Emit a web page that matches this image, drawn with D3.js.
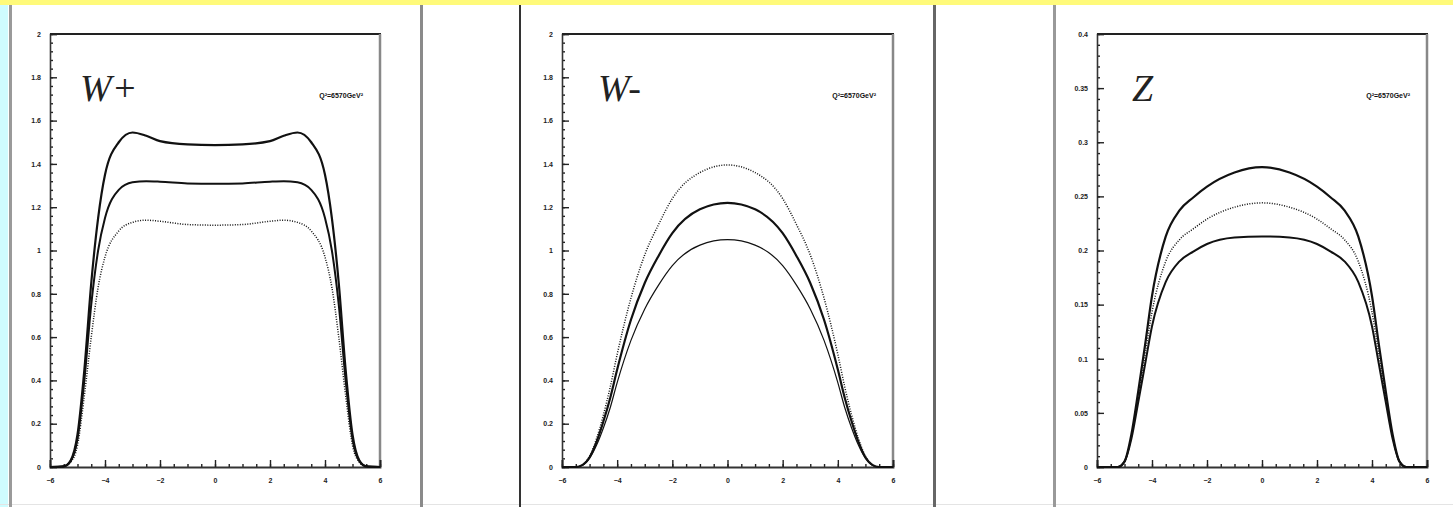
<!DOCTYPE html>
<html><head><meta charset="utf-8">
<script src="https://cdn.jsdelivr.net/npm/d3@7"></script>
<style>
html,body{margin:0;padding:0;background:#fff;}
svg{display:block;}
</style></head>
<body>
<svg id="c" width="1453" height="507"></svg>
<script>
// ---------- data ----------
const rapidity = [-6,-5.5,-5.25,-5,-4.75,-4.5,-4.25,-4,-3.5,-3,-2.5,-2,-1,0,1,2,2.5,3,3.5,4,4.25,4.5,4.75,5,5.25,5.5,6];

const wPlusUpper = [0,0.003,0.03,0.15,0.45,0.85,1.15,1.35,1.50,1.545,1.53,1.505,1.49,1.487,1.49,1.505,1.53,1.545,1.50,1.35,1.15,0.85,0.45,0.15,0.03,0.003,0];
const wPlusMiddle = [0,0.003,0.027,0.13,0.40,0.75,1.00,1.15,1.28,1.315,1.32,1.318,1.31,1.308,1.31,1.318,1.32,1.315,1.28,1.15,1.00,0.75,0.40,0.13,0.027,0.003,0];
const wPlusLower = [0,0.002,0.022,0.10,0.33,0.60,0.83,0.97,1.09,1.13,1.14,1.135,1.12,1.117,1.12,1.135,1.14,1.13,1.09,0.97,0.83,0.60,0.33,0.10,0.022,0.002,0];

const wMinusUpper = [0,0,0.01,0.05,0.13,0.24,0.37,0.52,0.78,0.98,1.12,1.24,1.36,1.395,1.36,1.24,1.12,0.98,0.78,0.52,0.37,0.24,0.13,0.05,0.01,0,0];
const wMinusMiddle = [0,0,0.01,0.045,0.115,0.21,0.32,0.45,0.68,0.85,0.975,1.08,1.19,1.22,1.19,1.08,0.975,0.85,0.68,0.45,0.32,0.21,0.115,0.045,0.01,0,0];
const wMinusLower = [0,0,0.008,0.04,0.10,0.18,0.275,0.39,0.585,0.73,0.84,0.93,1.025,1.05,1.025,0.93,0.84,0.73,0.585,0.39,0.275,0.18,0.10,0.04,0.008,0,0];

const zUpper = [0,0,0,0.005,0.03,0.07,0.113,0.158,0.213,0.237,0.249,0.259,0.272,0.277,0.272,0.259,0.249,0.237,0.213,0.158,0.113,0.07,0.03,0.005,0,0,0];
const zMiddle = [0,0,0,0.005,0.028,0.065,0.104,0.143,0.19,0.21,0.22,0.229,0.24,0.244,0.24,0.229,0.22,0.21,0.19,0.143,0.104,0.065,0.028,0.005,0,0,0];
const zLower = [0,0,0,0.005,0.026,0.06,0.095,0.13,0.171,0.19,0.199,0.206,0.212,0.213,0.212,0.206,0.199,0.19,0.171,0.13,0.095,0.06,0.026,0.005,0,0,0];

const xTicks = [-6,-4,-2,0,2,4,6];
const yTicksW = [0,0.2,0.4,0.6,0.8,1,1.2,1.4,1.6,1.8,2];
const yTicksZ = [0,0.05,0.1,0.15,0.2,0.25,0.3,0.35,0.4];
const titles = ["W+","W-","Z"];
const scaleLabel = "Q²=6570GeV²";

// ---------- drawing ----------
const svg = d3.select("#c");
svg.append("rect").attr("x",0).attr("y",0).attr("width",1453).attr("height",507).attr("fill","#fff");
svg.append("rect").attr("x",0).attr("y",0).attr("width",1453).attr("height",5).attr("fill","#fffa7a");
svg.append("rect").attr("x",0).attr("y",5).attr("width",8).attr("height",502).attr("fill","#cffcff");
svg.append("rect").attr("x",0).attr("y",504).attr("width",1453).attr("height",1).attr("fill","#e4e4e4");
const seps = [{x:9,w:3,c:"#9a9a9a"},{x:420,w:3,c:"#8a8a8a"},{x:519,w:2,c:"#333"},{x:933,w:3,c:"#666"},{x:1053,w:3,c:"#999"}];
seps.forEach(s=>svg.append("rect").attr("x",s.x).attr("y",5).attr("width",s.w).attr("height",502).attr("fill",s.c));

const panels = [
  {x0:50,x1:380,yMax:2,yTicks:yTicksW,minor:0.04,title:titles[0],titleX:80,
   series:[{v:wPlusUpper,w:2.2,d:null},{v:wPlusMiddle,w:2,d:null},{v:wPlusLower,w:1.5,d:"1,1.5"}]},
  {x0:562,x1:893,yMax:2,yTicks:yTicksW,minor:0.04,title:titles[1],titleX:598,
   series:[{v:wMinusUpper,w:1.5,d:"1,1.5"},{v:wMinusMiddle,w:2.2,d:null},{v:wMinusLower,w:1.2,d:null}]},
  {x0:1097,x1:1427,yMax:0.4,yTicks:yTicksZ,minor:0.01,title:titles[2],titleX:1132,
   series:[{v:zUpper,w:2.2,d:null},{v:zMiddle,w:1.5,d:"1,1.5"},{v:zLower,w:2,d:null}]}
];
const yTop = 34, yBot = 467;

panels.forEach(p=>{
  const g = svg.append("g");
  const x = d3.scaleLinear().domain([-6,6]).range([p.x0,p.x1]);
  const y = d3.scaleLinear().domain([0,p.yMax]).range([yBot,yTop]);

  g.append("line").attr("x1",p.x0).attr("x2",p.x1+1).attr("y1",yTop).attr("y2",yTop).attr("stroke","#222").attr("stroke-width",2);
  g.append("line").attr("x1",p.x1).attr("x2",p.x1).attr("y1",yTop).attr("y2",yBot).attr("stroke","#888").attr("stroke-width",2.5);

  const nMinor = Math.round(p.yMax/p.minor);
  const minorY = d3.range(nMinor+1).map(i=>i*p.minor);
  g.append("g").attr("transform",`translate(${p.x0},0)`)
    .call(d3.axisRight(y).tickValues(minorY).tickSize(3).tickFormat(""))
    .call(a=>a.select(".domain").remove())
    .call(a=>a.selectAll("line").attr("stroke","#222").attr("stroke-width",1.4));
  const ya = g.append("g").attr("transform",`translate(${p.x0},0)`)
    .call(d3.axisRight(y).tickValues(p.yTicks).tickSize(7).tickFormat(d3.format("~g")));
  ya.select(".domain").attr("stroke","#333").attr("stroke-width",1.6);
  ya.selectAll("line").attr("stroke","#222").attr("stroke-width",1.4);
  ya.selectAll("text").attr("x",-9).attr("text-anchor","end").attr("font-family","Liberation Sans").attr("font-weight","bold").attr("font-size",7).attr("fill","#222");

  const minorX = d3.range(25).map(i=>-6+i*0.5);
  g.append("g").attr("transform",`translate(0,${yBot})`)
    .call(d3.axisTop(x).tickValues(minorX).tickSize(3).tickFormat(""))
    .call(a=>a.select(".domain").remove())
    .call(a=>a.selectAll("line").attr("stroke","#222").attr("stroke-width",1.4));
  const xa = g.append("g").attr("transform",`translate(0,${yBot})`)
    .call(d3.axisTop(x).tickValues(xTicks).tickSize(7).tickFormat(d3.format("~g")));
  xa.select(".domain").attr("stroke","#333").attr("stroke-width",1.8);
  xa.selectAll("line").attr("stroke","#222").attr("stroke-width",1.4);
  xa.selectAll("text").attr("y",11).attr("dy","0.71em").attr("font-family","Liberation Sans").attr("font-weight","bold").attr("font-size",7).attr("fill","#222");

  const line = d3.line().x((d,i)=>x(rapidity[i])).y(d=>y(d)).curve(d3.curveMonotoneX);
  p.series.forEach(s=>{
    g.append("path").datum(s.v).attr("d",line).attr("fill","none")
      .attr("stroke","#111").attr("stroke-width",s.w)
      .attr("stroke-dasharray",s.d).attr("stroke-linejoin","round");
  });

  g.append("text").attr("x",p.titleX).attr("y",101).text(p.title)
    .attr("font-family","Liberation Serif").attr("font-style","italic").attr("font-size",38).attr("fill","#222");
  g.append("text").attr("x",p.x1-17).attr("y",98).attr("text-anchor","end").text(scaleLabel)
    .attr("font-family","Liberation Sans").attr("font-weight","bold").attr("font-size",7).attr("fill","#111");
});
</script>
</body></html>
